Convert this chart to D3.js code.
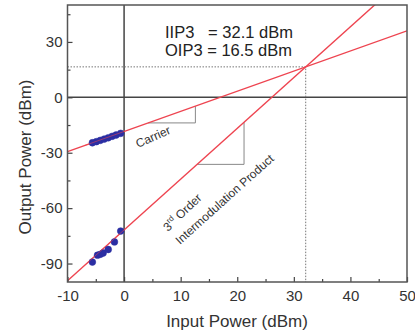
<!DOCTYPE html>
<html>
<head>
<meta charset="utf-8">
<script src="https://cdn.jsdelivr.net/npm/d3@7"></script>
<style>
  html, body { margin: 0; padding: 0; background: #fff; }
  svg { display: block; font-family: "Liberation Sans", Arial, sans-serif; }
</style>
</head>
<body>
<svg id="chart" width="415" height="335"></svg>
<script>
// values
const xTicks = [-10, 0, 10, 20, 30, 40, 50];
const yTicks = [-90, -60, -30, 0, 30];
const iip3 = 32.1;
const oip3 = 16.5;
const carrierSlope = 1.09;
const imSlope = 2.75;

const carrierX = [-5.6, -4.9, -4.2, -3.5, -2.8, -2.1, -1.4, -0.6];
const carrierY = [-24.6, -24.0, -23.3, -22.6, -21.9, -21.1, -20.4, -19.5];
const imX = [-5.6, -4.7, -4.2, -3.7, -2.8, -1.7, -0.6];
const imY = [-89.2, -85.5, -85.0, -84.3, -82.4, -78.3, -72.4];

const plotLeft = 67.5, plotRight = 407, plotTop = 5, plotBottom = 282;

const svg = d3.select("#chart");
const x = d3.scaleLinear().domain([-10, 50]).range([plotLeft, plotRight]);
const y = d3.scaleLinear().domain([-100, 50]).range([plotBottom, plotTop]);

const carrier = (v) => oip3 + carrierSlope * (v - iip3);
const im3 = (v) => oip3 + imSlope * (v - iip3);

svg.append("defs").append("clipPath").attr("id", "plot")
  .append("rect")
  .attr("x", plotLeft).attr("y", plotTop)
  .attr("width", plotRight - plotLeft).attr("height", plotBottom - plotTop);

const plot = svg.append("g").attr("clip-path", "url(#plot)");

// zero lines
plot.append("line")
  .attr("x1", x(0)).attr("x2", x(0)).attr("y1", plotTop).attr("y2", plotBottom)
  .attr("stroke", "#444").attr("stroke-width", 1.5);
plot.append("line")
  .attr("x1", plotLeft).attr("x2", plotRight).attr("y1", y(0)).attr("y2", y(0))
  .attr("stroke", "#444").attr("stroke-width", 1.5);

// intercept guides
plot.append("path")
  .attr("d", `M${plotLeft},${y(oip3)}H${x(iip3)}V${plotBottom}`)
  .attr("fill", "none")
  .attr("stroke", "#777")
  .attr("stroke-width", 1)
  .attr("stroke-dasharray", "1.5,1.5");

// slope triangles
const tri = (x0, x1, f) =>
  `M${x(x0)},${y(f(x0))}H${x(x1)}V${y(f(x1))}`;
plot.append("path").attr("d", tri(4.25, 12.6, carrier))
  .attr("fill", "none").attr("stroke", "#888").attr("stroke-width", 1);
plot.append("path").attr("d", tri(12.9, 21.2, im3))
  .attr("fill", "none").attr("stroke", "#888").attr("stroke-width", 1);

// fitted lines
const line = d3.line().x((d) => x(d[0])).y((d) => y(d[1]));
[carrier, im3].forEach((f) => {
  plot.append("path")
    .attr("d", line([[-10, f(-10)], [50, f(50)]]))
    .attr("fill", "none")
    .attr("stroke", "#ee4450")
    .attr("stroke-width", 1.4);
});

// measured points
const pts = carrierX.map((v, i) => [v, carrierY[i]])
  .concat(imX.map((v, i) => [v, imY[i]]));
plot.append("g")
  .selectAll("circle")
  .data(pts)
  .join("circle")
  .attr("cx", (d) => x(d[0]))
  .attr("cy", (d) => y(d[1]))
  .attr("r", 3.4)
  .attr("fill", "#2b2ea3")
  .attr("stroke", "#2b2ea3")
  .attr("stroke-width", 0.5);
// the fit shows faintly through the dots
[carrier, im3].forEach((f) => {
  plot.append("path")
    .attr("d", line([[-7, f(-7)], [0, f(0)]]))
    .attr("fill", "none")
    .attr("stroke", "#ee4450")
    .attr("stroke-width", 0.8)
    .attr("opacity", 0.7);
});

// axes, ticks inward; plain hyphen for negatives like the original
const fmt = (d) => String(d);
const xAxis = d3.axisBottom(x).tickValues(xTicks).tickSize(-5).tickPadding(8)
  .tickFormat(fmt);
const yAxis = d3.axisLeft(y).tickValues(yTicks).tickSize(-5).tickPadding(5)
  .tickFormat(fmt);

const gx = svg.append("g").attr("transform", `translate(0,${plotBottom})`).call(xAxis);
const gy = svg.append("g").attr("transform", `translate(${plotLeft},0)`).call(yAxis);

svg.append("g").attr("transform", `translate(0,${plotBottom})`)
  .call(d3.axisBottom(x).tickValues(d3.range(-5, 50, 10)).tickSize(-3).tickFormat(""));
svg.append("g").attr("transform", `translate(${plotLeft},0)`)
  .call(d3.axisLeft(y).tickValues([-75, -45, -15, 15, 45]).tickSize(-3).tickFormat(""));

svg.selectAll(".domain").remove();
svg.selectAll(".tick line").attr("stroke", "#444").attr("stroke-width", 1.2);
[gx, gy].forEach((g) => g.selectAll("text")
  .attr("font-size", 15)
  .attr("fill", "#333")
  .attr("font-family", "Liberation Sans, Arial, sans-serif"));

// frame
svg.append("rect")
  .attr("x", plotLeft).attr("y", plotTop)
  .attr("width", plotRight - plotLeft).attr("height", plotBottom - plotTop)
  .attr("fill", "none").attr("stroke", "#555").attr("stroke-width", 1.5);

// titles
svg.append("text")
  .attr("x", 237).attr("y", 327)
  .attr("text-anchor", "middle")
  .attr("font-size", 17).attr("fill", "#333")
  .text("Input Power (dBm)");
svg.append("text")
  .attr("transform", "translate(31,157) rotate(-90)")
  .attr("text-anchor", "middle")
  .attr("font-size", 17).attr("fill", "#333")
  .text("Output Power (dBm)");

// annotations
const note = svg.append("g").attr("font-size", 16.5).attr("fill", "#222");
note.append("text").attr("x", 165).attr("y", 38)
  .style("white-space", "pre").text("IIP3   = 32.1 dBm");
note.append("text").attr("x", 165).attr("y", 56).text("OIP3 = 16.5 dBm");

svg.append("text")
  .attr("transform", "translate(138,148) rotate(-24)")
  .attr("font-size", 12).attr("fill", "#333")
  .text("Carrier");

const im = svg.append("text")
  .attr("transform", "translate(168,232) rotate(-44)")
  .attr("font-size", 12).attr("fill", "#333");
im.append("tspan").text("3");
im.append("tspan").attr("font-size", 8).attr("dy", -5).text("rd");
im.append("tspan").attr("dy", 5).text(" Order");

svg.append("text")
  .attr("transform", "translate(180,245) rotate(-42)")
  .attr("font-size", 12).attr("fill", "#333")
  .text("Intermodulation Product");
</script>
</body>
</html>
